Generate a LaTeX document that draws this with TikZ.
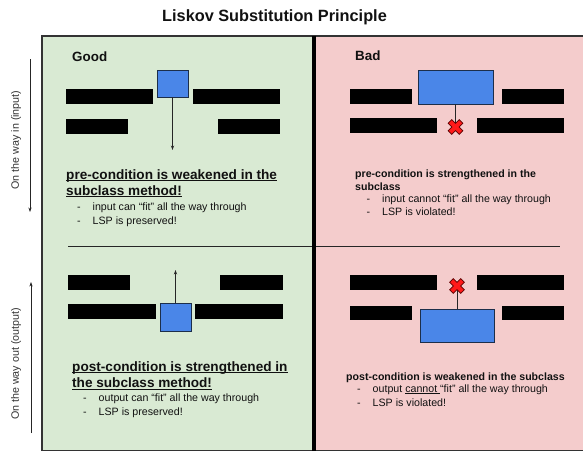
\documentclass[tikz,border=0pt]{standalone}
\usepackage{fontspec}
\setmainfont{Liberation Sans}
\usetikzlibrary{arrows.meta}
\definecolor{goodbg}{HTML}{D9EAD3}
\definecolor{badbg}{HTML}{F4CCCC}
\definecolor{boxblue}{HTML}{4A86E8}
\definecolor{boxedge}{HTML}{1C2E4A}
\definecolor{xred}{HTML}{FF1A1A}
\definecolor{xedge}{HTML}{5A0000}
\definecolor{txt}{HTML}{111111}
\newcommand\myul[1]{\setbox0\hbox{#1}\rlap{\rule[-1.9pt]{\wd0}{1pt}}\box0}
\tikzset{
  bar/.style={fill=black},
  bluebox/.style={draw=boxedge, fill=boxblue, line width=0.8pt, inner sep=0pt},
  conn/.style={draw=black!85, line width=0.7pt},
  arr/.style={conn, -{Stealth[length=4.5pt,width=3.2pt]}},
  head/.style={inner sep=0pt, anchor=base west, text=txt, font=\fontsize{13.6}{16}\selectfont\bfseries},
  headsm/.style={inner sep=0pt, anchor=base west, text=txt, font=\fontsize{10.6}{13}\selectfont\bfseries},
  body/.style={inner sep=0pt, anchor=base west, text=txt, font=\fontsize{10.65}{13}\selectfont},
  side/.style={inner sep=0pt, rotate=90, text=black!80, font=\fontsize{10.7}{13}\selectfont},
  xmark/.pic={
    \filldraw[fill=xred, draw=xedge, line width=0.7pt, rotate=45]
      (2.5,7.8) -- (2.5,2.5) -- (7.8,2.5) -- (7.8,-2.5) -- (2.5,-2.5) -- (2.5,-7.8)
      -- (-2.5,-7.8) -- (-2.5,-2.5) -- (-7.8,-2.5) -- (-7.8,2.5) -- (-2.5,2.5) -- (-2.5,7.8) -- cycle;
  }
}
\newcommand\dash{\makebox[15.5pt][l]{-}}
\begin{document}
\begin{tikzpicture}[x=1pt,y=-1pt]
\useasboundingbox (0,0) rectangle (583,451);
\clip (0,0) rectangle (583,451);
% panels
\fill[goodbg] (42,36) rectangle (314,450.5);
\fill[badbg] (314,36) rectangle (590,450.5);
\draw[black!80, line width=1.1pt] (590,36) -- (42,36) -- (42,450.5) -- (590,450.5);
\draw[black!85, line width=0.9pt] (68,246) -- (560,246);
\draw[black, line width=3.6pt] (314,36) -- (314,451);

% title
\node[inner sep=0pt, anchor=base, font=\fontsize{16.3}{19}\selectfont\bfseries, text=txt] (title) at (274.5,21) {Liskov Substitution Principle};
\node[inner sep=0pt, anchor=base west, font=\fontsize{13.4}{16}\selectfont\bfseries, text=txt] (good) at (72,61.5) {Good};
\node[inner sep=0pt, anchor=base west, font=\fontsize{13.4}{16}\selectfont\bfseries, text=txt] (bad) at (355,60) {Bad};

% side labels and arrows
\coordinate (inS) at (30,59); \coordinate (inE) at (30,212);
\coordinate (outS) at (31,433); \coordinate (outE) at (31,282);
\draw[arr] (inS) -- (inE);
\draw[arr] (outS) -- (outE);
\node[side] (inlabel) at (16,140) {On the way in (input)};
\node[side] (outlabel) at (16,364) {On the way out (output)};

% ---- top left (good, input)
\fill[bar] (66,89) rectangle (153,104);
\fill[bar] (193,89) rectangle (280,104);
\fill[bar] (66,119) rectangle (128,134);
\fill[bar] (218,119) rectangle (280,134);
\node[bluebox, minimum width=31, minimum height=27] (b1) at (172.5,83.5) {};
\coordinate (e1) at (172.5,150);
\draw[arr] (b1.south) -- (e1);
\node[head] (h1a) at (66,179) {\myul{pre-condition is weakened in the}};
\node[head] (h1b) at (66,195.5) {\myul{subclass method!}};
\node[body] (t1a) at (77,210) {\dash input can “fit” all the way through};
\node[body] (t1b) at (77,224) {\dash LSP is preserved!};

% ---- top right (bad, input)
\fill[bar] (350,89) rectangle (412,104);
\fill[bar] (502,89) rectangle (564,104);
\fill[bar] (350,118) rectangle (437,133);
\fill[bar] (477,118) rectangle (564,133);
\node[bluebox, minimum width=75, minimum height=34] (b2) at (455.5,87) {};
\coordinate (x2) at (455.5,127);
\draw[conn] (b2.south) -- (x2);
\pic at (x2) {xmark};
\node[headsm] (h2a) at (355,177.7) {pre-condition is strengthened in the};
\node[headsm] (h2b) at (355,190) {subclass};
\node[body] (t2a) at (366.5,202) {\dash input cannot “fit” all the way through};
\node[body] (t2b) at (366.5,215) {\dash LSP is violated!};

% ---- bottom left (good, output)
\fill[bar] (68,275) rectangle (130,290);
\fill[bar] (220,275) rectangle (283,290);
\fill[bar] (68,304) rectangle (156,319);
\fill[bar] (195,304) rectangle (283,319);
\node[bluebox, minimum width=31, minimum height=28] (b3) at (175.5,317) {};
\coordinate (e3) at (175.5,270);
\draw[arr] (b3.north) -- (e3);
\node[head] (h3a) at (72,371) {\myul{post-condition is strengthened in}};
\node[head] (h3b) at (72,387.7) {\myul{the subclass method!}};
\node[body] (t3a) at (83,401.7) {\dash output can “fit” all the way through};
\node[body] (t3b) at (83,415.7) {\dash LSP is preserved!};

% ---- bottom right (bad, output)
\fill[bar] (350,275) rectangle (437,290);
\fill[bar] (477,275) rectangle (564,290);
\fill[bar] (350,306) rectangle (412,320);
\fill[bar] (502,306) rectangle (564,320);
\node[bluebox, minimum width=74, minimum height=33] (b4) at (457,325.5) {};
\coordinate (x4) at (457,286);
\draw[conn] (b4.north) -- (x4);
\pic at (x4) {xmark};
\node[headsm] (h4a) at (346,380) {post-condition is weakened in the subclass};
\node[body] (t4a) at (357,392.3) {\dash output \myul{cannot\ }“fit” all the way through};
\node[body] (t4b) at (357,406) {\dash LSP is violated!};
\end{tikzpicture}
\end{document}
